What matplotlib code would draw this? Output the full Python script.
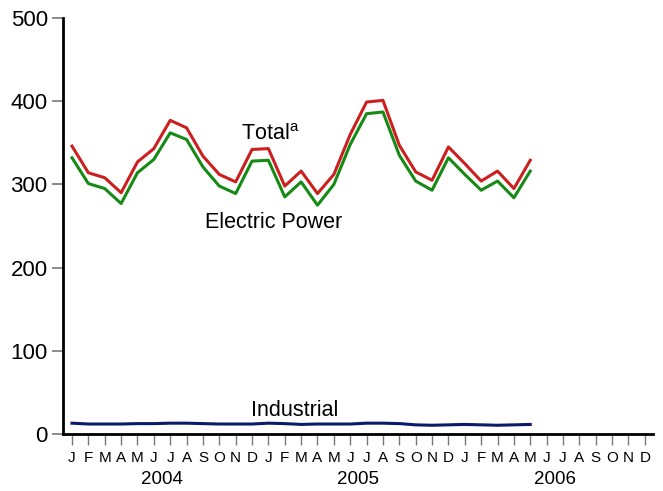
import matplotlib.pyplot as plt
import numpy as np

plt.rcParams['font.family'] = ['Liberation Sans', 'DejaVu Sans']

months = ['J', 'F', 'M', 'A', 'M', 'J', 'J', 'A', 'S', 'O', 'N', 'D'] * 3
years = ['2004', '2005', '2006']

total = [346, 314, 308, 290, 327, 343, 377, 368, 334, 312, 303, 342,
         343, 298, 316, 289, 312, 360, 399, 401, 347, 315, 305, 345,
         325, 304, 316, 295, 329]
electric = [332, 301, 295, 277, 314, 330, 362, 354, 321, 298, 289, 328,
            329, 285, 303, 275, 300, 348, 385, 387, 335, 304, 293, 332,
            312, 293, 304, 284, 316]
industrial = [13, 12, 12, 12, 12.5, 12.5, 13, 13, 12.5, 12, 12, 12,
              13, 12.5, 11.5, 12, 12, 12, 13, 13, 12.5, 11, 10.5, 11,
              11.5, 11, 10.5, 11, 11.5]

W, H = 663, 491
x = np.arange(len(total))

fig = plt.figure(figsize=(W/100, H/100), dpi=100)
ax = fig.add_axes([63/W, 1-434/H, 590/W, 416/H])

ax.plot(x, total, color='#cc1f1f', lw=2.2)
ax.plot(x, electric, color='#158a15', lw=2.2)
ax.plot(np.arange(len(industrial)), industrial, color='#0b1a6b', lw=2.2)

# series labels, placed in pixel coordinates (from top-left)
fig.text(241/W, 1-135/H, 'Total$^{\\mathregular{a}}$', fontsize=15.5,
         va='center', ha='left')
fig.text(205/W, 1-223/H, 'Electric Power', fontsize=15.5, va='center', ha='left')
fig.text(251/W, 1-410/H, 'Industrial', fontsize=15.5, va='center', ha='left')

ax.set_xlim(-0.55, 35.5)
ax.set_ylim(0, 500)
ax.set_yticks([0, 100, 200, 300, 400, 500])
ax.tick_params(axis='y', length=8, width=1.2, color='#777777', labelsize=16, pad=3)
ax.set_xticks(np.arange(36))
ax.set_xticklabels(months)
ax.tick_params(axis='x', length=8, width=1, color='#777777', labelsize=11, pad=4)

for i, yr in enumerate(years):
    fig.text((72 + 16.37*(12*i + 5.5))/W, 1-479/H, yr, ha='center',
             va='center', fontsize=13.5)

for s in ['top', 'right']:
    ax.spines[s].set_visible(False)
ax.spines['left'].set_linewidth(2)
ax.spines['bottom'].set_linewidth(2)

fig.savefig('out.png', dpi=100)
